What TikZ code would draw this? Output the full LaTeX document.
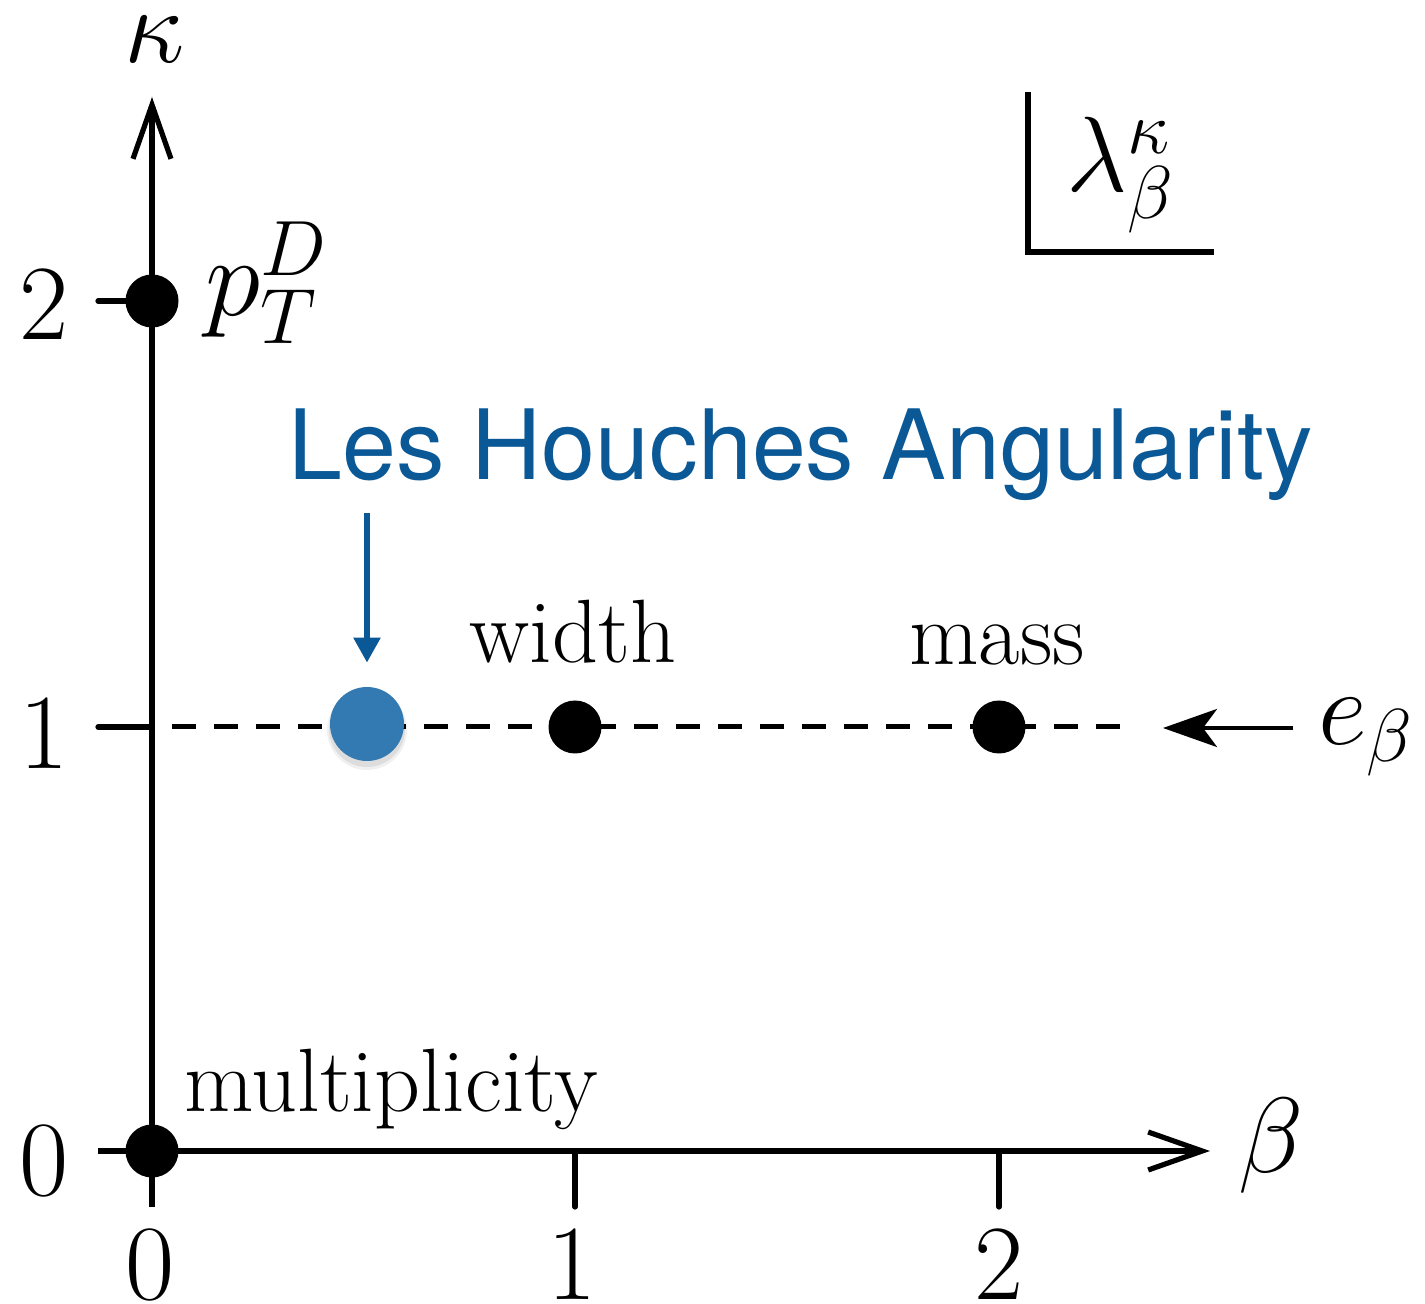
\RequirePackage{fix-cm}
\documentclass[tikz,border=0pt]{standalone}
\usepackage{fontspec}
\newfontfamily\heros{TeX Gyre Heros}
\usetikzlibrary{arrows.meta}
\definecolor{lhblue}{RGB}{10,88,150}
\definecolor{dotblue}{RGB}{52,122,178}
\begin{document}
\begin{tikzpicture}[x=0.5pt,y=-0.5pt,
  axis/.style={line width=2.6pt},
  tick/.style={line width=2.6pt, line cap=round},
  dot/.style={circle, fill=black, minimum size=26.5pt, inner sep=0pt},
  mlabel/.style={inner sep=0pt, font=\fontsize{53.5}{60}\selectfont},
  tlabel/.style={inner sep=0pt, font=\fontsize{45}{52}\selectfont},
  blue label/.style={inner sep=0pt, text=lhblue, font=\heros\fontsize{48.5}{56}\selectfont},
]
\useasboundingbox (0,0) rectangle (1425,1304);
% axes
\coordinate (O) at (152,1151);
\coordinate (ytop) at (152,97);
\coordinate (ybot) at (152,1207);
\coordinate (xleft) at (98,1151);
\coordinate (xright) at (1210,1151);
\draw[axis,-{Straight Barb[length=27pt,width=19pt]}] (ybot) -- (ytop);
\draw[axis,-{Straight Barb[length=27pt,width=19pt]}] (xleft) -- (xright);
% ticks
\coordinate (t2a) at (98,301);  \coordinate (t2b) at (152,301);
\coordinate (t1a) at (98,727);  \coordinate (t1b) at (152,727);
\coordinate (u1a) at (575,1151); \coordinate (u1b) at (575,1207);
\coordinate (u2a) at (999,1151); \coordinate (u2b) at (999,1207);
\draw[tick] (t2a) -- (t2b);
\draw[tick] (t1a) -- (t1b);
\draw[tick] (u1a) -- (u1b);
\draw[tick] (u2a) -- (u2b);
% dashed line
\coordinate (dend) at (1125,727);
\draw[line width=2.5pt, dash pattern=on 12pt off 9pt, dash phase=-10pt] (t1b) -- (dend);
% tick labels
\node[mlabel, anchor=base] (l2) at (44,340) {2};
\node[mlabel, anchor=base] (l1) at (44,769) {1};
\node[mlabel, anchor=base] (l0) at (44,1195) {0};
\node[mlabel, anchor=base] (b0) at (150,1299) {0};
\node[mlabel, anchor=base] (b1) at (572,1299) {1};
\node[mlabel, anchor=base] (b2) at (999,1299) {2};
% axis labels
\node[mlabel] (kappa) at (155,39) {$\kappa$};
\node[mlabel, anchor=base west] (beta) at (1238,1172) {$\beta$};
% dots
\node[dot] (d2) at (152,301) {};
\node[dot] (d0) at (152,1151) {};
\node[dot] (dw) at (575,727) {};
\node[dot] (dm) at (999,727) {};
% blue dot with soft shadow
\fill[black, opacity=0.06] (367,730) circle (20pt);
\fill[black, opacity=0.08] (367,729) circle (19pt);
\node[circle, fill=dotblue, minimum size=37pt, inner sep=0pt] (lh) at (367,724) {};
% labels
\node[mlabel, anchor=base west, font=\fontsize{56}{62}\selectfont] (pt) at (205,316) {$p_T^D$};
\node[tlabel, anchor=base] (width) at (573,663) {width};
\node[tlabel, anchor=base] (mass) at (997,665) {mass};
\node[tlabel, anchor=base west] (mult) at (184,1111) {multiplicity};
\node[blue label, anchor=base west] (lhtext) at (288,480) {Les Houches Angularity};
% blue arrow
\coordinate (lhtop) at (367,513);
\draw[lhblue, line width=2.8pt, -{Triangle[length=12.5pt,width=13pt]}, shorten >=12pt] (lhtop) -- (lh.north);
% e_beta
\node[mlabel, anchor=base west] (eb) at (1318,745) {$e_\beta$};
\coordinate (estart) at (1293,728);
\coordinate (eend) at (1163,728);
\draw[line width=2pt, -{Stealth[length=27pt,width=19pt,inset=7pt]}] (estart) -- (eend);
% lambda box
\coordinate (lbtop) at (1028,92);
\coordinate (lbcorner) at (1028,252);
\coordinate (lbright) at (1214,252);
\draw[line width=2.6pt] (lbtop) -- (lbcorner) -- (lbright);
\node[mlabel, anchor=base west] (lam) at (1066,192) {$\lambda_\beta^\kappa$};
\end{tikzpicture}
\end{document}
